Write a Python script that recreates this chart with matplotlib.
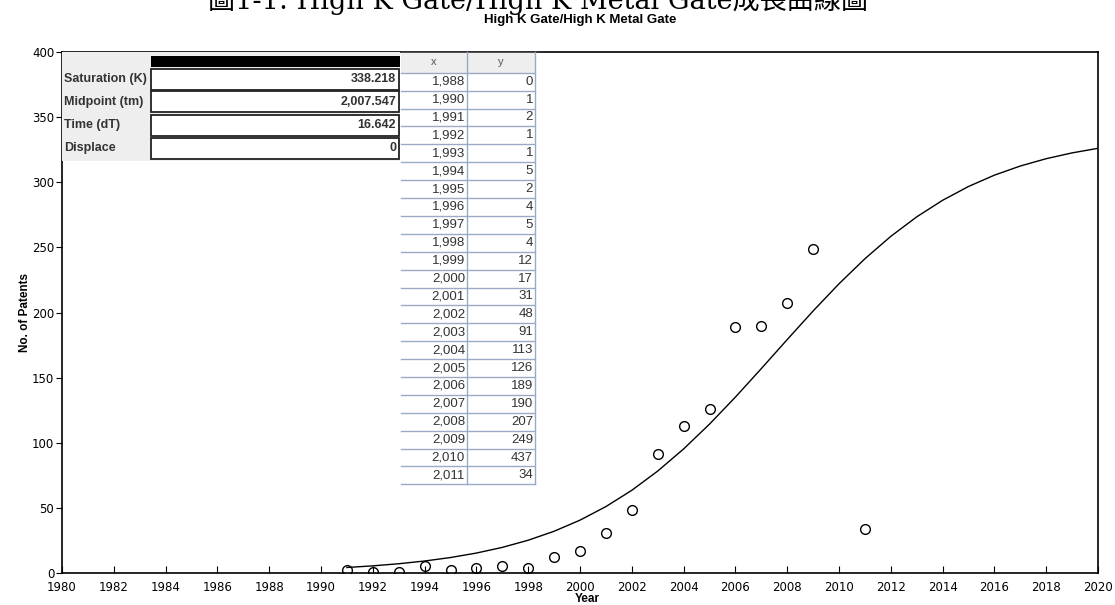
import numpy as np
import matplotlib
matplotlib.use("Agg")
import matplotlib.pyplot as plt
from matplotlib.patches import Rectangle
from matplotlib.lines import Line2D

# patent counts per year
years = [1988, 1990, 1991, 1992, 1993, 1994, 1995, 1996, 1997, 1998, 1999,
         2000, 2001, 2002, 2003, 2004, 2005, 2006, 2007, 2008, 2009, 2010, 2011]
counts = [0, 1, 2, 1, 1, 5, 2, 4, 5, 4, 12, 17, 31, 48, 91, 113, 126,
          189, 190, 207, 249, 437, 34]

# logistic fit parameters
param_names = ["Saturation (K)", "Midpoint (tm)", "Time (dT)", "Displace"]
param_values = [338.218, 2007.547, 16.642, 0]
param_labels = ["338.218", "2,007.547", "16.642", "0"]
fit_start = 1991
fit_end = 2020

title = "High K Gate/High K Metal Gate"
caption = "圖1-1: High K Gate/High K Metal Gate成長曲線圖"

W, H = 1115, 605
fig = plt.figure(figsize=(W / 100, H / 100), dpi=100)


def fx(x):
    return x / W


def fy(y):
    return 1 - y / H


ax = fig.add_axes([fx(62), fy(573), fx(1098) - fx(62), fy(52) - fy(573)])

K, tm, dT, disp = param_values
t = np.arange(fit_start, fit_end + 1)
curve = K / (1 + np.exp(-np.log(81) / dT * (t - tm))) + disp
ax.plot(t, curve, color="black", lw=1)

yrs = np.array(years)
cnt = np.array(counts)
sel = yrs >= fit_start
ax.plot(yrs[sel], cnt[sel], "o", mfc="none", mec="black", ms=7, mew=1)

ax.set_xlim(1980, 2020)
ax.set_ylim(0, 400)
ax.set_xticks(range(1980, 2021, 2))
ax.set_yticks(range(0, 401, 50))
ax.tick_params(axis="x", direction="in", length=5, labelsize=8.5, pad=6)
ax.tick_params(axis="y", direction="out", length=4, labelsize=8.5, pad=1.5)
for s in ax.spines.values():
    s.set_linewidth(1.2)
ax.set_ylabel("No. of Patents", fontsize=8.5, fontweight="bold",
              family="Liberation Sans")
ax.yaxis.set_label_coords((31 - 62) / 1036, 0.5)

fig.text(fx(587), fy(599), "Year", ha="center", va="center", fontsize=8.5,
         fontweight="bold", family="Liberation Sans")
fig.text(fx(580), fy(20), title, ha="center", va="center", fontsize=9.5,
         fontweight="bold", family="Liberation Sans")
fig.text(fx(538), fy(9), caption, ha="center", va="baseline", fontsize=19.5,
         family=["DejaVu Serif", "Noto Sans CJK TC"])

# parameter panel
fig.patches.append(Rectangle((fx(62), fy(161)), fx(400) - fx(62), fy(52) - fy(161),
                             transform=fig.transFigure, facecolor="#eeeeee",
                             edgecolor="none", zorder=3))
fig.patches.append(Rectangle((fx(151), fy(67)), fx(400) - fx(151), fy(56) - fy(67),
                             transform=fig.transFigure, facecolor="black",
                             edgecolor="none", zorder=4))
for i, (name, lab) in enumerate(zip(param_names, param_labels)):
    top = 68.5 + i * 23
    fig.patches.append(Rectangle((fx(151), fy(top + 21)), fx(399) - fx(151),
                                 fy(top) - fy(top + 21), transform=fig.transFigure,
                                 facecolor="white", edgecolor="#222222", lw=1.3,
                                 zorder=4))
    fig.text(fx(64), fy(top + 10.5), name, ha="left", va="center", fontsize=9,
             fontweight="bold", color="#333333", family="Liberation Sans", zorder=5)
    fig.text(fx(396), fy(top + 10.5), lab, ha="right", va="center", fontsize=9,
             fontweight="bold", color="#333333", family="Liberation Sans", zorder=5)

# data table
tl, tm_x, tr = 401, 467, 535
head_top, head_bot, row_h = 52, 72.7, 17.9
grid_c = "#9aaac4"
fig.patches.append(Rectangle((fx(tl), fy(head_bot)), fx(tr) - fx(tl),
                             fy(head_top) - fy(head_bot), transform=fig.transFigure,
                             facecolor="#eeeeee", edgecolor="none", zorder=3))
fig.lines.append(Line2D([fx(tl), fx(tr + 5)], [fy(head_top), fy(head_top)],
                        transform=fig.transFigure, color="#333333", lw=1.2, zorder=4))
fig.text(fx((tl + tm_x) / 2), fy(62), "x", ha="center", va="center", fontsize=8,
         color="#555555", family="Liberation Sans", zorder=5)
fig.text(fx((tm_x + tr) / 2), fy(62), "y", ha="center", va="center", fontsize=8,
         color="#555555", family="Liberation Sans", zorder=5)
n = len(years)
bottom = head_bot + n * row_h
fig.patches.append(Rectangle((fx(tl), fy(bottom)), fx(tr) - fx(tl),
                             fy(head_bot) - fy(bottom), transform=fig.transFigure,
                             facecolor="white", edgecolor="none", zorder=3))
for xv in (tm_x, tr):
    fig.lines.append(Line2D([fx(xv), fx(xv)], [fy(head_top), fy(bottom)],
                            transform=fig.transFigure, color=grid_c, lw=1, zorder=4))
for i, (yr, c) in enumerate(zip(years, counts)):
    y0 = head_bot + i * row_h
    fig.lines.append(Line2D([fx(tl), fx(tr)], [fy(y0), fy(y0)],
                            transform=fig.transFigure, color=grid_c, lw=1, zorder=4))
    fig.text(fx(tm_x - 2), fy(y0 + row_h / 2), f"{yr:,}", ha="right", va="center",
             fontsize=9.5, color="#333333", family="Liberation Sans", zorder=5)
    fig.text(fx(tr - 2), fy(y0 + row_h / 2), f"{c:,}", ha="right", va="center",
             fontsize=9.5, color="#333333", family="Liberation Sans", zorder=5)
fig.lines.append(Line2D([fx(tl), fx(tr)], [fy(bottom), fy(bottom)],
                        transform=fig.transFigure, color=grid_c, lw=1, zorder=4))

fig.savefig("out.png", dpi=100)
